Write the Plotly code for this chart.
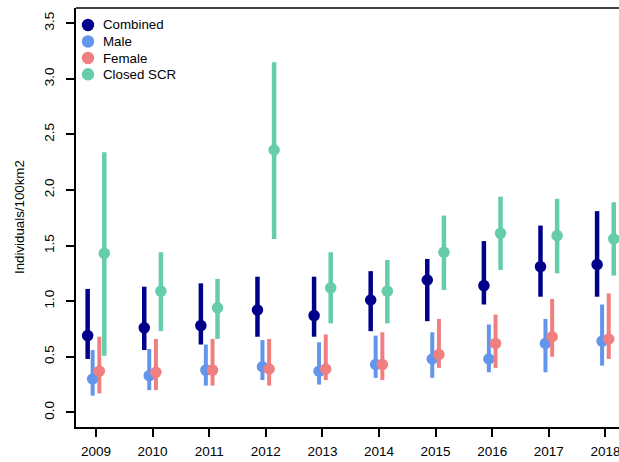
import plotly.graph_objects as go

years = [2009, 2010, 2011, 2012, 2013, 2014, 2015, 2016, 2017, 2018]

combined = [0.69, 0.76, 0.78, 0.92, 0.87, 1.01, 1.19, 1.14, 1.31, 1.33]
combined_lo = [0.48, 0.56, 0.61, 0.68, 0.68, 0.73, 0.82, 0.97, 1.04, 1.04]
combined_hi = [1.11, 1.13, 1.16, 1.22, 1.22, 1.27, 1.38, 1.54, 1.68, 1.81]

male = [0.30, 0.33, 0.38, 0.41, 0.37, 0.43, 0.48, 0.48, 0.62, 0.64]
male_lo = [0.15, 0.20, 0.24, 0.29, 0.25, 0.31, 0.31, 0.36, 0.36, 0.42]
male_hi = [0.56, 0.57, 0.61, 0.65, 0.63, 0.69, 0.72, 0.79, 0.84, 0.97]

female = [0.37, 0.36, 0.38, 0.39, 0.39, 0.43, 0.52, 0.62, 0.68, 0.66]
female_lo = [0.17, 0.20, 0.24, 0.24, 0.29, 0.29, 0.40, 0.40, 0.50, 0.48]
female_hi = [0.68, 0.66, 0.66, 0.66, 0.70, 0.72, 0.84, 0.88, 1.02, 1.07]

closed = [1.43, 1.09, 0.94, 2.36, 1.12, 1.09, 1.44, 1.61, 1.59, 1.56]
closed_lo = [0.51, 0.73, 0.66, 1.56, 0.80, 0.80, 1.10, 1.28, 1.25, 1.23]
closed_hi = [2.34, 1.44, 1.20, 3.15, 1.44, 1.37, 1.77, 1.94, 1.92, 1.89]

series_names = ["Combined", "Male", "Female", "Closed SCR"]
series_colors = ["#00008B", "#6495ED", "#F08080", "#66CDAA"]

series = [
    (combined, combined_lo, combined_hi, -0.147, 4.5),
    (male, male_lo, male_hi, -0.059, 4),
    (female, female_lo, female_hi, 0.059, 4),
    (closed, closed_lo, closed_hi, 0.147, 4.5),
]

W, H = 619, 462
L, R, T, B = 76, 0, 8, 35
PW, PH = W - L - R, H - T - B

fig = go.Figure()
for name, col, (v, lo, hi, off, lw) in zip(series_names, series_colors, series):
    fig.add_trace(go.Scatter(
        x=[y + off for y in years], y=v, mode="markers", name=name,
        showlegend=False,
        marker=dict(color=col, size=11.5, line=dict(width=0)),
        error_y=dict(type="data", symmetric=False,
                     array=[h - m for h, m in zip(hi, v)],
                     arrayminus=[m - l for m, l in zip(v, lo)],
                     color=col, thickness=lw, width=0),
    ))

# manual legend (R-style compact legend)
shapes = [dict(type="line", xref="paper", yref="paper", x0=0, x1=1, y0=1, y1=1,
               line=dict(color="black", width=1.5))]
annotations = []
leg_rows = [25, 41.5, 58, 74.3]
for name, col, py in zip(series_names, series_colors, leg_rows):
    xp = (88 - L) / PW
    yp = 1 - (py - T) / PH
    shapes.append(dict(type="circle", xref="paper", yref="paper",
                       xsizemode="pixel", ysizemode="pixel",
                       xanchor=xp, yanchor=yp, x0=-6.2, x1=6.2, y0=-6.2, y1=6.2,
                       fillcolor=col, line=dict(width=0)))
    annotations.append(dict(xref="paper", yref="paper", x=(101 - L) / PW, y=yp,
                            xanchor="left", yanchor="middle", showarrow=False,
                            text=name, font=dict(size=13.3)))

annotations.append(dict(xref="paper", yref="paper", x=(19.5 - L) / PW, y=0.5,
                        xanchor="center", yanchor="middle", showarrow=False,
                        textangle=-90, text="Individuals/100km2",
                        font=dict(size=13.3)))

font = "Liberation Sans, Arial, sans-serif"
fig.update_layout(
    width=W, height=H,
    margin=dict(l=L, r=R, t=T, b=B, autoexpand=False),
    paper_bgcolor="white", plot_bgcolor="white",
    font=dict(family=font, size=13.3, color="black"),
    showlegend=False,
    xaxis=dict(range=[2008.647, 2018.24], tickvals=years,
               ticktext=[str(y) for y in years], automargin=False,
               ticklabeloverflow="allow", ticklabelstandoff=3,
               showgrid=False, zeroline=False, showline=True,
               linecolor="black", linewidth=1.5,
               ticks="outside", ticklen=8, tickwidth=1.5, tickcolor="black",
               tickfont=dict(size=13.5)),
    yaxis=dict(range=[-0.132, 3.637], tickvals=[0, 0.5, 1, 1.5, 2, 2.5, 3, 3.5],
               tickformat=".1f", tickangle=-90, automargin=False,
               ticklabeloverflow="allow", ticklabelstandoff=7,
               showgrid=False, zeroline=False, showline=True,
               linecolor="black", linewidth=1.5,
               ticks="outside", ticklen=8, tickwidth=1.5, tickcolor="black",
               tickfont=dict(size=13.5)),
    shapes=shapes,
    annotations=annotations,
)

fig.write_html("out.html", config={"displayModeBar": False},
               post_script="document.body.style.margin='0';document.body.style.overflow='hidden';")
